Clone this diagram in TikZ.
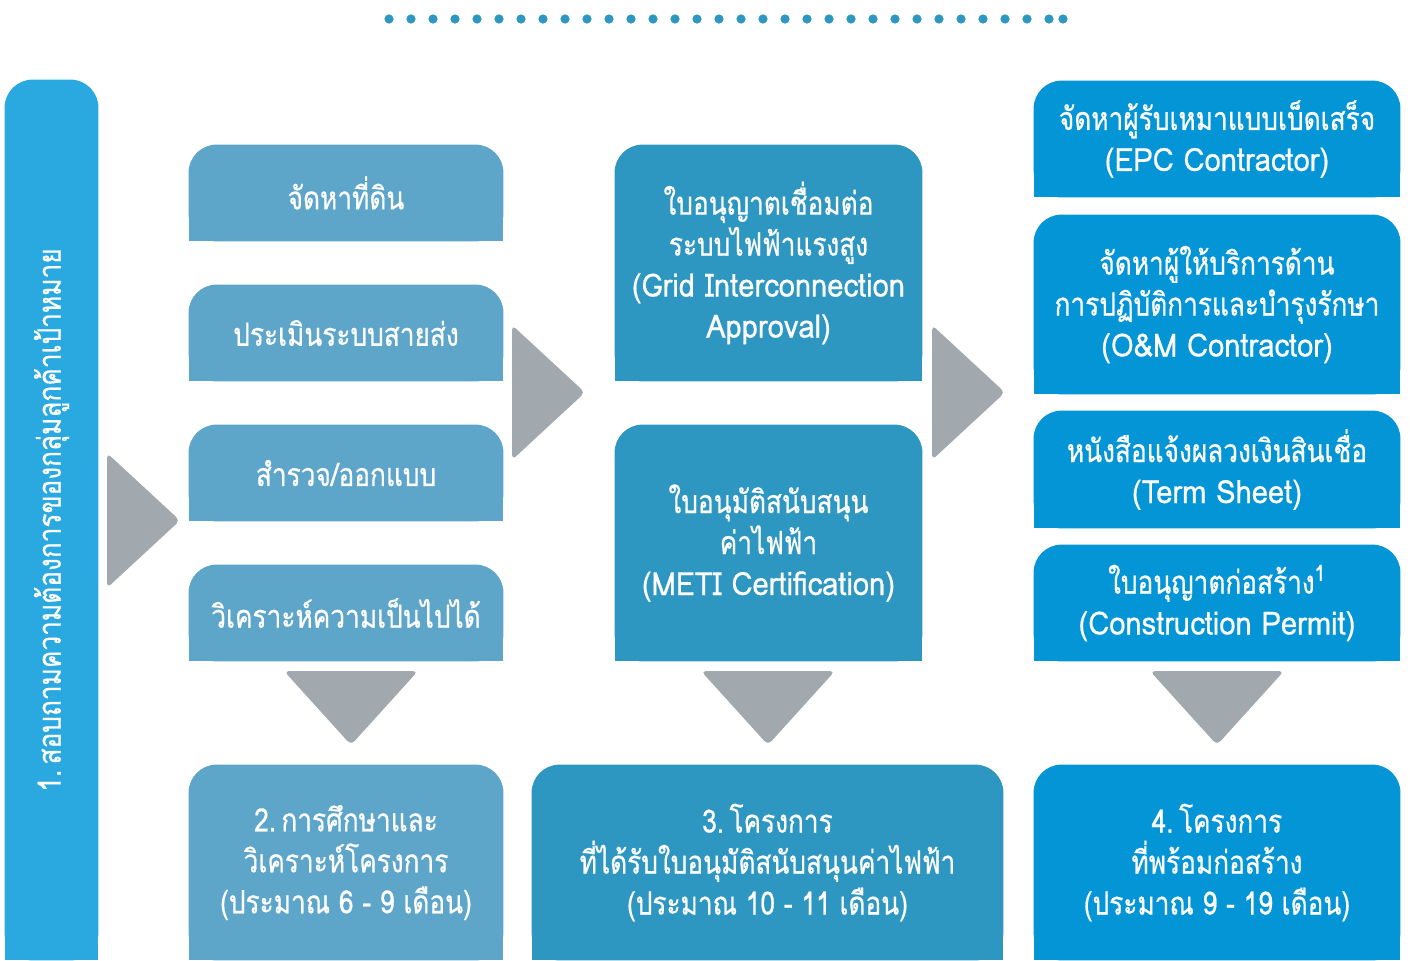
\documentclass[tikz,border=0pt]{standalone}
\usepackage{fontspec}
\setmainfont{Loma}[Script=Thai, FakeStretch=0.82, FakeBold=0.6]
\newfontfamily\latinfont{Loma}[FakeStretch=0.91, FakeBold=0.6]
\newcommand{\en}[1]{{\latinfont #1}}
\usetikzlibrary{backgrounds}
\definecolor{barblue}{HTML}{29A9E0}
\definecolor{stepone}{HTML}{5DA6CA}
\definecolor{steptwo}{HTML}{2E97C1}
\definecolor{stepthree}{HTML}{0395D6}
\definecolor{arrowgray}{HTML}{A1A9AE}

\begin{document}
\begin{tikzpicture}[
    x=0.5pt, y=0.5pt,
    every node/.style={text=white, align=center, inner sep=0pt,
                       font=\fontsize{16}{20.5}\selectfont},
    cellone/.style={minimum width=157pt},
    celltwo/.style={minimum width=153.5pt},
    cellthree/.style={minimum width=183pt},
    flowtri/.style={fill=arrowgray, rounded corners=2.5pt}
    ]
\useasboundingbox (0,0) rectangle (1410,-960);

% dotted rule on top
\foreach \i in {0,...,30}
  \fill[steptwo] (389+\i*22,-19) circle (2.3pt);
\fill[steptwo] (1063,-19) circle (2.3pt);

% column 1
\node[minimum width=46.5pt, minimum height=440pt] (target) at (51.5,-520) {};
\node[rotate=90] (targettext) at (target.center) {1.\,สอบถามความต้องการของกลุ่มลูกค้าเป้าหมาย};

% column 2
\node[cellone, minimum height=48pt] (land) at (346,-193) {จัดหาที่ดิน};
\node[cellone, minimum height=48pt] (line) at (346,-333) {ประเมินระบบสายส่ง};
\node[cellone, minimum height=48pt] (survey) at (346,-473) {สำรวจ/ออกแบบ};
\node[cellone, minimum height=48pt] (feasible) at (346,-613) {วิเคราะห์ความเป็นไปได้};
\node[cellone, minimum height=97.5pt] (study) at (346,-862.5)
  {2.\,การศึกษาและ\\วิเคราะห์โครงการ\\(ประมาณ 6 - 9 เดือน)};

% column 3
\node[celltwo, minimum height=118pt] (grid) at (768.5,-263)
  {ใบอนุญาตเชื่อมต่อ\\ระบบไฟฟ้าแรงสูง\\\en{(Grid Interconnection}\\\en{Approval)}};
\node[celltwo, minimum height=118pt] (meti) at (768.5,-543)
  {ใบอนุมัติสนับสนุน\\ค่าไฟฟ้า\\\en{(METI Certification)}};
\node[minimum width=235.5pt, minimum height=97.5pt] (approved) at (767.5,-862.5)
  {3.\,โครงการ\\ที่ได้รับใบอนุมัติสนับสนุนค่าไฟฟ้า\\(ประมาณ 10 - 11 เดือน)};

% column 4
\node[cellthree, minimum height=58pt] (epc) at (1217,-139)
  {จัดหาผู้รับเหมาแบบเบ็ดเสร็จ\\\en{(EPC Contractor)}};
\node[cellthree, minimum height=89.5pt] (om) at (1217,-304.5)
  {จัดหาผู้ให้บริการด้าน\\การปฏิบัติการและบำรุงรักษา\\\en{(O\&M Contractor)}};
\node[cellthree, minimum height=58.5pt] (term) at (1217,-469.5)
  {หนังสือแจ้งผลวงเงินสินเชื่อ\\\en{(Term Sheet)}};
\node[cellthree, minimum height=58pt] (permit) at (1217,-603)
  {ใบอนุญาตก่อสร้าง\textsuperscript{1}\\\en{(Construction Permit)}};
\node[cellthree, minimum height=97.5pt] (ready) at (1217,-862.5)
  {4.\,โครงการ\\ที่พร้อมก่อสร้าง\\(ประมาณ 9 - 19 เดือน)};

% boxes, round on top only
\begin{scope}[on background layer]
\foreach \n/\c in {target/barblue, land/stepone, line/stepone, survey/stepone,
    feasible/stepone, study/stepone, grid/steptwo, meti/steptwo,
    approved/steptwo, epc/stepthree, om/stepthree, term/stepthree,
    permit/stepthree, ready/stepthree} {
  \fill[\c, rounded corners=14pt] (\n.south west) rectangle (\n.north east);
  \fill[\c] (\n.south west) rectangle (\n.east);
}
\end{scope}

% grey arrows
\fill[flowtri] (107,-453) -- (180,-520.5) -- (107,-588) -- cycle;
\fill[flowtri] (512,-325) -- (585,-392.5) -- (512,-460) -- cycle;
\fill[flowtri] (932,-325) -- (1005,-392.5) -- (932,-460) -- cycle;
\foreach \x in {351,768,1217}
  \fill[flowtri] (\x-67,-671) -- (\x+67,-671) -- (\x,-745) -- cycle;
\end{tikzpicture}
\end{document}
